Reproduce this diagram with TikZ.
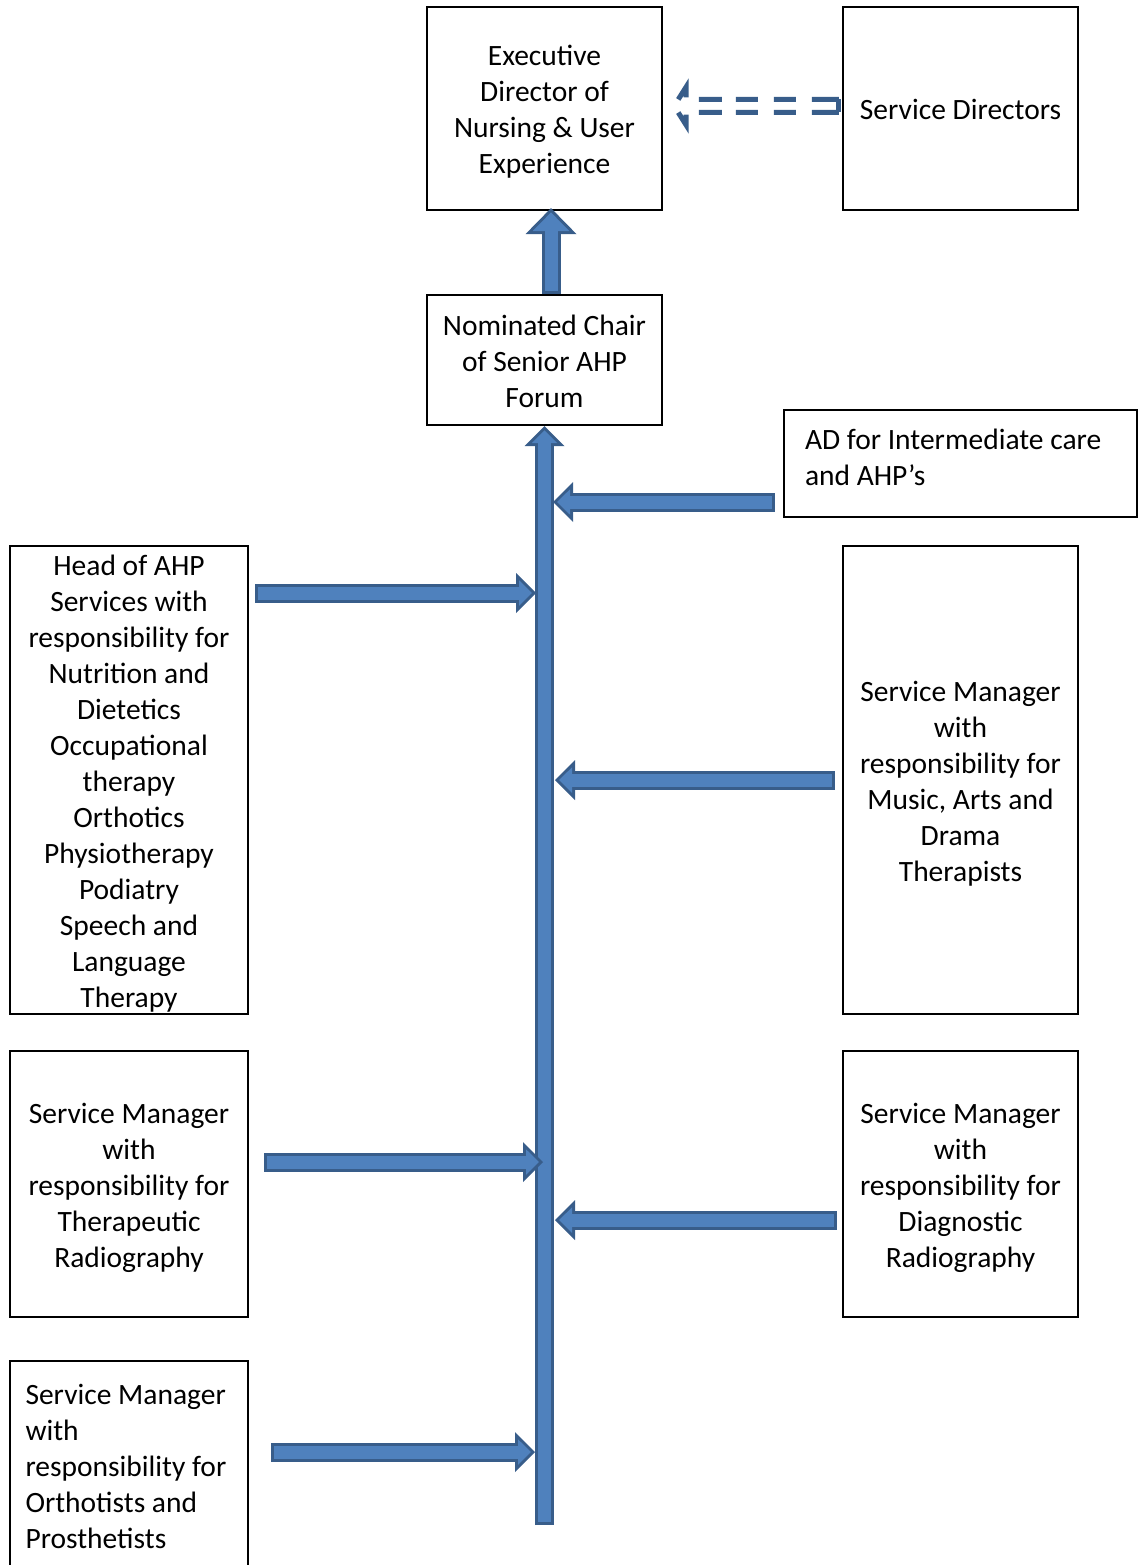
\documentclass[tikz,border=0pt]{standalone}
\usepackage{fontspec}
\setmainfont{Carlito}
\usepackage{tikz}
\usetikzlibrary{positioning,arrows.meta}

\definecolor{arrowfill}{HTML}{4F81BD}
\definecolor{arrowedge}{HTML}{385D8A}

\tikzset{
    box/.style={draw, line width=2.2pt, align=flush center, text width=225pt,
        inner xsep=4pt, inner ysep=0pt,
        font=\fontsize{29.5}{36}\selectfont,
        execute at begin node=\rule{0pt}{29pt},
        execute at end node={\\[-30pt]\mbox{}}},
    feedarrow/.style={line width=19pt, draw=arrowedge,
        -{Triangle[length=20pt,width=40pt,line width=0pt]},
        postaction={draw=arrowfill, line width=13pt, shorten <=3pt, shorten >=4.2pt,
            -{Triangle[length=12.8pt,width=25.5pt,line width=0pt]}}},
    hubarrow/.style={line width=19pt, draw=arrowedge,
        -{Triangle[length=26pt,width=51pt,line width=0pt]},
        postaction={draw=arrowfill, line width=13pt, shorten <=3pt, shorten >=4.3pt,
            -{Triangle[length=18.7pt,width=36.7pt,line width=0pt]}}},
    dashedge/.style={draw=arrowedge, line width=5pt}
}

\begin{document}
\begin{tikzpicture}[x=1pt,y=-1pt]
    \clip (0,0) rectangle (1140,1565);

    %% top of the chart
    \node[box, minimum width=235pt, minimum height=203pt] (exec) at (544.5,108.5)
        {Executive\\Director of\\Nursing \& User\\Experience};
    \node[box, minimum width=235pt, minimum height=203pt] (directors) at (960.5,108.5)
        {Service Directors};
    \node[box, minimum width=235pt, minimum height=130pt] (chair) at (544.5,360)
        {Nominated Chair\\of Senior AHP\\Forum};
    \node[box, align=flush left, text width=311pt, inner xsep=21pt, minimum height=107pt,
        execute at end node={\\[-21pt]\mbox{}}] (adcare) at (960.5,463.5)
        {AD for Intermediate care\\and AHP’s};

    %% services reporting in
    \node[box, minimum width=238pt, minimum height=468pt] (headahp) at (129,780)
        {Head of AHP\\Services with\\responsibility for\\Nutrition and\\Dietetics\\Occupational\\therapy\\Orthotics\\Physiotherapy\\Podiatry\\Speech and\\Language\\Therapy};
    \node[box, minimum width=235pt, minimum height=468pt] (music) at (960.5,780)
        {Service Manager\\with\\responsibility for\\Music, Arts and\\Drama\\Therapists};
    \node[box, minimum width=238pt, minimum height=266pt] (therapeutic) at (129,1184)
        {Service Manager\\with\\responsibility for\\Therapeutic\\Radiography};
    \node[box, minimum width=235pt, minimum height=266pt] (diagnostic) at (960.5,1184)
        {Service Manager\\with\\responsibility for\\Diagnostic\\Radiography};
    \node[box, align=flush left, text width=207pt, inner xsep=15.5pt, minimum height=207pt] (orthotists) at (129,1464.5)
        {Service Manager\\with\\responsibility for\\Orthotists and\\Prosthetists};

    %% the trunk and where the arrows meet it
    \coordinate (trunkend) at (544.5,1525);
    \coordinate (jad) at (553,502);
    \coordinate (jhead) at (536,593);
    \coordinate (jmusic) at (555,780);
    \coordinate (jther) at (543,1162);
    \coordinate (jdiag) at (555,1220);
    \coordinate (jortho) at (535,1452);

    \draw[hubarrow] ([xshift=6.5pt]chair.north) -- ([xshift=6.5pt,yshift=3pt]exec.south);
    \draw[feedarrow] (trunkend) -- (chair.south);

    \draw[feedarrow] ([xshift=-8pt]adcare.west |- jad) -- (jad);
    \draw[feedarrow] ([xshift=6pt]headahp.east |- jhead) -- (jhead);
    \draw[feedarrow] ([xshift=-7pt]music.west |- jmusic) -- (jmusic);
    \draw[feedarrow] ([xshift=15pt]therapeutic.east |- jther) -- (jther);
    \draw[feedarrow] ([xshift=-5pt]diagnostic.west |- jdiag) -- (jdiag);
    \draw[feedarrow] ([xshift=22pt]orthotists.east |- jortho) -- (jortho);

    %% dashed link from the service directors
    \coordinate (dtip) at ([xshift=11pt,yshift=2.5pt]exec.east);
    \coordinate (dneck) at ([xshift=12pt]dtip);
    \coordinate (dend) at ([xshift=-3pt]directors.west |- dtip);
    \draw[dashedge, line cap=square] ([yshift=6.5pt]dend) -- ([yshift=-6.5pt]dend);
    \draw[dashedge, dash pattern=on 27pt off 16pt on 22pt off 16pt on 22pt off 14pt on 23pt off 15pt on 25pt off 30pt]
        ([yshift=6.5pt]dend) -- ([yshift=6.5pt]dneck) -- ([yshift=19pt]dneck) -- (dtip);
    \draw[dashedge, dash pattern=on 27pt off 16pt on 22pt off 16pt on 22pt off 14pt on 23pt off 15pt on 25pt off 30pt]
        ([yshift=-6.5pt]dend) -- ([yshift=-6.5pt]dneck) -- ([yshift=-19pt]dneck) -- (dtip);
\end{tikzpicture}
\end{document}
